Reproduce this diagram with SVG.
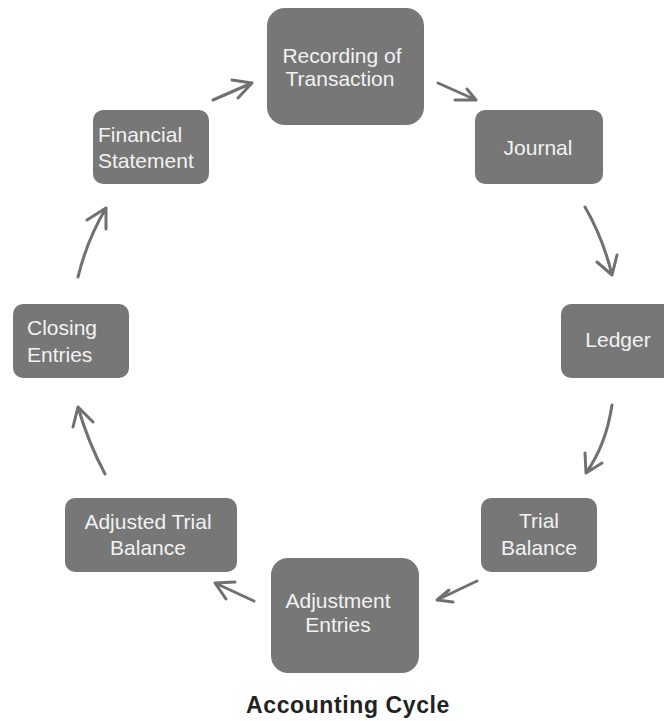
<svg xmlns="http://www.w3.org/2000/svg" width="664" height="721" viewBox="0 0 664 721">
  <style>
    .box { fill: #777777; }
    .lbl { font-family: "Liberation Sans", Arial, sans-serif; font-size: 21px; fill: #f2f2f2; }
    .c { text-anchor: middle; }
    .arr { fill: none; stroke: #707070; stroke-width: 3; stroke-linecap: round; stroke-linejoin: round; }
    .title { font-family: "Liberation Sans", Arial, sans-serif; font-size: 23px; font-weight: bold; fill: #222222; text-anchor: middle; letter-spacing: 0.6px; }
  </style>
  <rect width="664" height="721" fill="#ffffff"/>

  <g id="recording">
    <rect class="box" x="267" y="8" width="157" height="117" rx="18"/>
    <text class="lbl c" x="342" y="63">Recording of</text>
    <text class="lbl c" x="340" y="86">Transaction</text>
  </g>
  <g id="journal">
    <rect class="box" x="475" y="110" width="128" height="74" rx="10"/>
    <text class="lbl c" x="538" y="155">Journal</text>
  </g>
  <g id="ledger">
    <rect class="box" x="561" y="304" width="115" height="74" rx="10"/>
    <text class="lbl c" x="618" y="347">Ledger</text>
  </g>
  <g id="trial-balance">
    <rect class="box" x="481" y="498" width="116" height="74" rx="10"/>
    <text class="lbl c" x="539" y="528">Trial</text>
    <text class="lbl c" x="539" y="555">Balance</text>
  </g>
  <g id="adjustment-entries">
    <rect class="box" x="271" y="558" width="148" height="115" rx="17"/>
    <text class="lbl c" x="338" y="608">Adjustment</text>
    <text class="lbl c" x="338" y="632">Entries</text>
  </g>
  <g id="adjusted-trial-balance">
    <rect class="box" x="65" y="498" width="172" height="74" rx="10"/>
    <text class="lbl c" x="148" y="529">Adjusted Trial</text>
    <text class="lbl c" x="148" y="555">Balance</text>
  </g>
  <g id="closing-entries">
    <rect class="box" x="13" y="304" width="116" height="74" rx="10"/>
    <text class="lbl" x="27" y="335">Closing</text>
    <text class="lbl" x="27" y="362">Entries</text>
  </g>
  <g id="financial-statement">
    <rect class="box" x="93" y="110" width="116" height="74" rx="10"/>
    <text class="lbl" x="98" y="142">Financial</text>
    <text class="lbl" x="98" y="168">Statement</text>
  </g>

  <g id="connectors">
    <path class="arr" d="M213,100 L252,83 M232,80 L252,83 L238,98"/>
    <path class="arr" d="M438,83 L476,100 M455,100 L476,100 L467,89"/>
    <path class="arr" d="M585,207 Q603,238 612,275 M597,262 L612,275 L617,255"/>
    <path class="arr" d="M612,405 Q606,445 586,473 M585,453 L586,473 L602,463"/>
    <path class="arr" d="M477,581 L437,600 M449,590 L437,600 L453,602"/>
    <path class="arr" d="M254,601 L215,583 M235,582 L215,583 L226,599"/>
    <path class="arr" d="M105,474 Q88,442 78,407 M73,427 L78,407 L93,422"/>
    <path class="arr" d="M78,277 Q87,240 106,208 M87,220 L106,208 L106,229"/>
  </g>

  <text class="title" x="348" y="713">Accounting Cycle</text>
</svg>
